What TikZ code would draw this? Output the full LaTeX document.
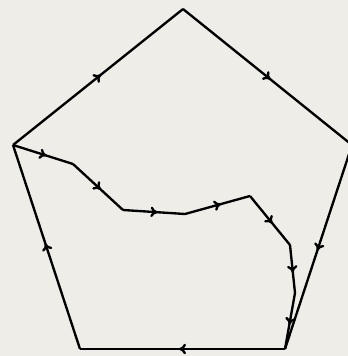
\documentclass[tikz,border=0pt]{standalone}
\usepackage{xcolor}
\usetikzlibrary{arrows.meta,decorations.markings}
\definecolor{PathBg}{HTML}{EFEDE7}
\tikzset{
  midarrow/.style={decoration={markings,
      mark=at position 0.5 with {\arrow[xshift=3pt]{To[length=6pt,width=9pt]}}},
    postaction={decorate}},
  edgeline/.style={black,line width=2pt,line join=round,midarrow}
}

\begin{document}
\begin{tikzpicture}[x=0.03cm,y=-0.03cm]
\fill[PathBg] (0,0) rectangle (348,356);
\useasboundingbox (0,0) rectangle (348,356);
% pentagon corners
\coordinate (top) at (183,9);
\coordinate (right) at (352,145);
\coordinate (botright) at (285,349);
\coordinate (botleft) at (80,349);
\coordinate (left) at (13,145);
% inner path
\coordinate (p1) at (73,164);
\coordinate (p2) at (123,210);
\coordinate (p3) at (185,214);
\coordinate (p4) at (250,196);
\coordinate (p5) at (290,245);
\coordinate (p6) at (295,293);
% outer boundary
\draw[edgeline] (left) -- (top);
\draw[edgeline] (top) -- (right);
\draw[edgeline] (right) -- (botright);
\draw[edgeline] (botright) -- (botleft);
\draw[edgeline] (botleft) -- (left);
% path across
\draw[edgeline] (left) -- (p1);
\draw[edgeline] (p1) -- (p2);
\draw[edgeline] (p2) -- (p3);
\draw[edgeline] (p3) -- (p4);
\draw[edgeline] (p4) -- (p5);
\draw[edgeline] (p5) -- (p6);
\draw[edgeline] (p6) -- (botright);
\end{tikzpicture}
\end{document}
